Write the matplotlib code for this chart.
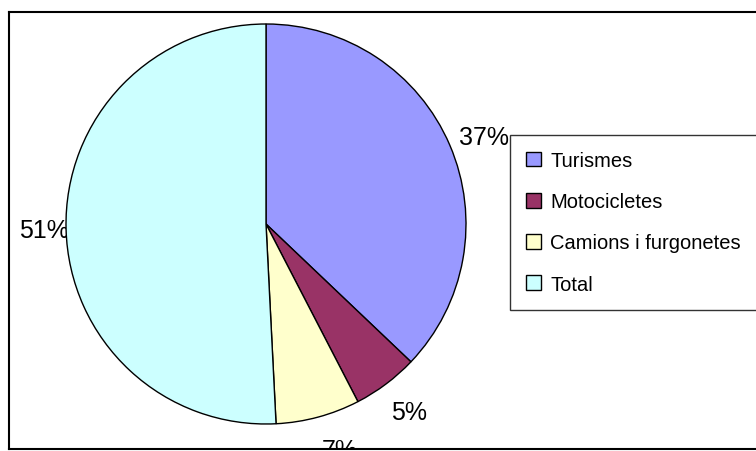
import numpy as np
import matplotlib.pyplot as plt

plt.rcParams['font.family'] = ['Liberation Sans', 'DejaVu Sans']

categories = ['Turismes', 'Motocicletes', 'Camions i furgonetes', 'Total']
shares = [37.1, 5.3, 6.8, 50.8]
colors = ['#9999FF', '#993366', '#FFFFCC', '#CCFFFF']

fig = plt.figure(figsize=(7.56, 4.52), dpi=100)
# axes in pixel units, frame = the chart border (right side runs off the page)
ax = fig.add_axes([9 / 756, 2 / 452, 751 / 756, 437 / 452])

cx, cy, r = 266, 227, 200
wedges, texts, autotexts = ax.pie(
    shares, colors=colors, startangle=90, counterclock=False,
    center=(cx, cy), radius=r, frame=True,
    autopct='%.0f%%', pctdistance=1.17,
    wedgeprops=dict(edgecolor='black', linewidth=1.0),
    textprops=dict(fontsize=18, color='black'))

# push the percentage labels out like a spreadsheet chart does
label_dist = [1.17, 1.175, 1.17, 1.11]
label_nudge = [(3, -5), (2, 0), (13, 0), (0, 0)]
for w, t, d, (nx, ny) in zip(wedges, autotexts, label_dist, label_nudge):
    ang = np.deg2rad((w.theta1 + w.theta2) / 2)
    t.set_position((cx + r * d * np.cos(ang) + nx, cy + r * d * np.sin(ang) + ny))
    t.set_zorder(0.5)
    t.set_clip_on(True)

ax.set_xlim(9, 760)
ax.set_ylim(2, 439)
ax.set_aspect('auto')
ax.set_xticks([])
ax.set_yticks([])
for sp in ax.spines.values():
    sp.set_linewidth(1.5)
    sp.set_color('black')

leg = ax.legend(wedges, categories, loc='upper left',
                bbox_to_anchor=(510, 316), bbox_transform=ax.transData,
                frameon=True, fancybox=False, shadow=False,
                fontsize=14.5, handlelength=0.75, handleheight=0.75,
                handletextpad=0.45, labelspacing=1.1, borderpad=0.8,
                borderaxespad=0)
leg.get_frame().set_edgecolor('black')
leg.get_frame().set_linewidth(1.0)
leg.set_zorder(5)

fig.savefig('out.png', dpi=100)
